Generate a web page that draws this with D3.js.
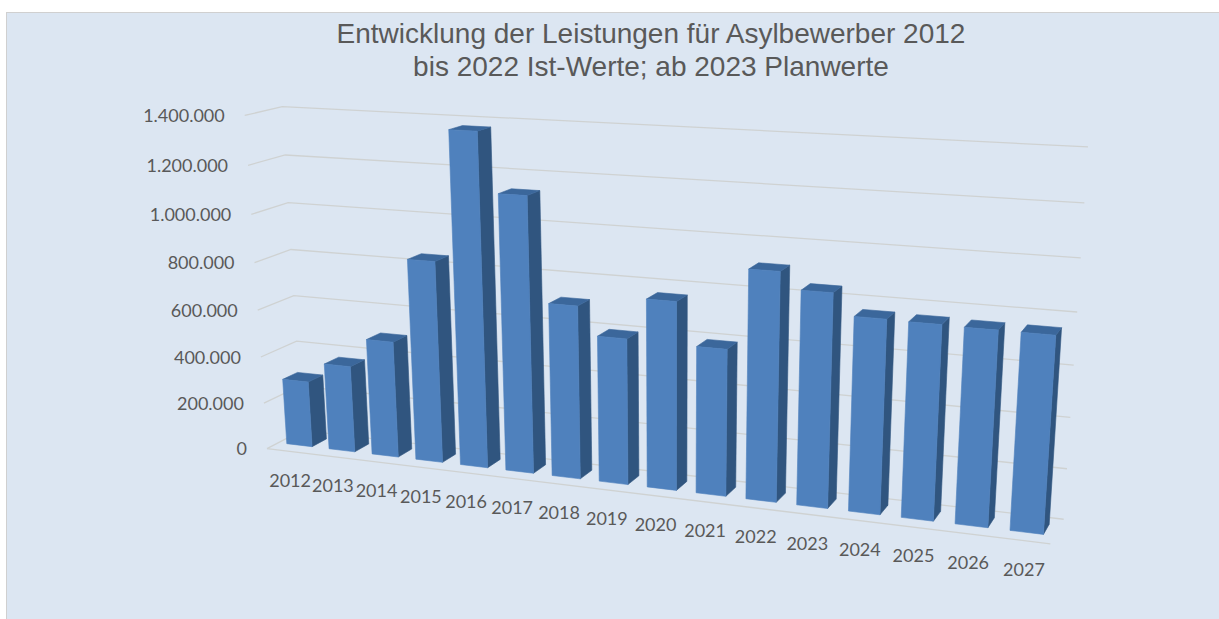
<!DOCTYPE html>
<html>
<head>
<meta charset="utf-8">
<script src="https://cdn.jsdelivr.net/npm/d3@7"></script>
<style>
  html, body { margin: 0; padding: 0; background: #ffffff; }
  svg { display: block; }
</style>
</head>
<body>
<svg id="chart" width="1219" height="619"></svg>
<script>
// ---- data ----
const years = ["2012", "2013", "2014", "2015", "2016", "2017", "2018", "2019",
               "2020", "2021", "2022", "2023", "2024", "2025", "2026", "2027"];
const values = [284000, 370000, 493000, 843000, 1372000, 1133000, 711000, 597000,
                762000, 592000, 910000, 845000, 762000, 759000, 756000, 755000];
const yTicks = [0, 200000, 400000, 600000, 800000, 1000000, 1200000, 1400000];
const titleLines = ["Entwicklung der Leistungen für Asylbewerber 2012",
                    "bis 2022 Ist-Werte; ab 2023 Planwerte"];

// ---- layout ----
const W = 1219, H = 619;
const BG = "#dce6f2";
const TEXT = "#595959";
const GRID = "#cfd2d2";
const FACE_FRONT = "#4f81bd", FACE_SIDE = "#30557f", FACE_TOP = "#3b679b";

// Plot box in world units: X along the years, Y = value share, Z depth (0 = back wall, 1 = front)
const BAR_BACK_Z = 0.26, BAR_FRONT_Z = 0.68;

// Screen anchors of the plot box corners: [world X,Y,Z] -> [px, py]
const boxAnchors = [
  [[0, 1, 0], [282, 107]],
  [[1, 1, 0], [1088, 147]],
  [[0, 0, 0], [302, 431]],
  [[1, 0, 0], [1064, 518]],
  [[0, 1, 1], [245, 115]],
  [[0, 0, 1], [267, 448]],
  [[1, 0, 1], [1050, 545]]
];

// Perspective camera (3x4 projective matrix) fitted to the box anchors
function fitCamera(pairs) {
  const S = 400, CX = 650, CY = 320, n = 11;
  const rows = [], rhs = [];
  pairs.forEach(([[X, Y, Z], [u, v]]) => {
    const s = (u - CX) / S, t = (v - CY) / S;
    rows.push([X, Y, Z, 1, 0, 0, 0, 0, -s * X, -s * Y, -s * Z]); rhs.push(s);
    rows.push([0, 0, 0, 0, X, Y, Z, 1, -t * X, -t * Y, -t * Z]); rhs.push(t);
  });
  const M = Array.from({length: n}, () => new Array(n + 1).fill(0));
  rows.forEach((r, k) => {
    for (let i = 0; i < n; i++) {
      for (let j = 0; j < n; j++) M[i][j] += r[i] * r[j];
      M[i][n] += r[i] * rhs[k];
    }
  });
  for (let c = 0; c < n; c++) {
    let piv = c;
    for (let r = c + 1; r < n; r++) if (Math.abs(M[r][c]) > Math.abs(M[piv][c])) piv = r;
    [M[c], M[piv]] = [M[piv], M[c]];
    for (let r = 0; r < n; r++) {
      if (r === c) continue;
      const f = M[r][c] / M[c][c];
      for (let j = c; j <= n; j++) M[r][j] -= f * M[c][j];
    }
  }
  const p = M.map((row, i) => row[n] / row[i]);
  return (X, Y, Z) => {
    const w = p[8] * X + p[9] * Y + p[10] * Z + 1;
    return [(p[0] * X + p[1] * Y + p[2] * Z + p[3]) / w * S + CX,
            (p[4] * X + p[5] * Y + p[6] * Z + p[7]) / w * S + CY];
  };
}
const project = fitCamera(boxAnchors);

// ---- scales ----
const x = d3.scaleBand().domain(years).range([0, 1]).paddingInner(0.4).paddingOuter(0.2);
const y = d3.scaleLinear().domain([0, 1400000]).range([0, 1]);
const de = d3.formatLocale({decimal: ",", thousands: ".", grouping: [3], currency: ["", " €"]});
const fmt = de.format(",d");

const svg = d3.select("#chart");

// background panel
svg.append("rect").attr("x", 0).attr("y", 0).attr("width", W).attr("height", H).attr("fill", "#ffffff");
svg.append("rect").attr("x", 6.5).attr("y", 12.5).attr("width", W - 6).attr("height", H - 12)
  .attr("fill", BG).attr("stroke", "#d0d0d0").attr("stroke-width", 1);

// title
svg.append("text")
  .attr("x", 651).attr("y", 43)
  .attr("text-anchor", "middle")
  .attr("font-family", "'Liberation Sans', Arial, sans-serif")
  .attr("font-size", 28).attr("fill", TEXT)
  .selectAll("tspan").data(titleLines).join("tspan")
  .attr("x", 651).attr("dy", (d, i) => i === 0 ? 0 : 33)
  .text(d => d);

const line = d3.line();
const pt = (X, Y, Z) => project(X, Y, Z);

// gridlines on back wall and side wall
const grid = svg.append("g").attr("fill", "none").attr("stroke", GRID).attr("stroke-width", 1.3);
yTicks.forEach(t => {
  const v = y(t);
  grid.append("path").attr("d", line([pt(0, v, 1), pt(0, v, 0), pt(1, v, 0)]));
});
// floor front edge
grid.append("path").attr("d", line([pt(0, 0, 1), pt(1, 0, 1)]));

// y-axis labels along the front edge of the side wall
svg.append("g").selectAll("text").data(yTicks).join("text")
  .attr("x", d => pt(0, y(d), 1)[0] - 20)
  .attr("y", d => pt(0, y(d), 1)[1] + 2)
  .attr("text-anchor", "end").attr("dominant-baseline", "middle")
  .attr("font-family", "Lato, 'Open Sans', sans-serif").attr("font-size", 18)
  .attr("fill", TEXT)
  .text(d => fmt(d));

// bars: front, right side and top faces, drawn left to right
const polygon = pts => "M" + pts.map(p => p.join(",")).join("L") + "Z";
const bars = svg.append("g");
years.forEach((yr, i) => {
  const x0 = x(yr), x1 = x(yr) + x.bandwidth();
  const h = y(values[i]);
  const z0 = BAR_BACK_Z, z1 = BAR_FRONT_Z;
  const g = bars.append("g").attr("stroke-width", 0.6).attr("stroke-linejoin", "round");
  g.append("path").attr("d", polygon([pt(x1, 0, z1), pt(x1, 0, z0), pt(x1, h, z0), pt(x1, h, z1)]))
    .attr("fill", FACE_SIDE).attr("stroke", FACE_SIDE);
  g.append("path").attr("d", polygon([pt(x0, h, z1), pt(x1, h, z1), pt(x1, h, z0), pt(x0, h, z0)]))
    .attr("fill", FACE_TOP).attr("stroke", FACE_TOP);
  g.append("path").attr("d", polygon([pt(x0, 0, z1), pt(x1, 0, z1), pt(x1, h, z1), pt(x0, h, z1)]))
    .attr("fill", FACE_FRONT).attr("stroke", FACE_FRONT);
});

// category labels below the floor front edge
svg.append("g").selectAll("text").data(years).join("text")
  .attr("x", d => pt(x(d) + x.bandwidth() / 2, 0, 1)[0] + 2)
  .attr("y", d => pt(x(d) + x.bandwidth() / 2, 0, 1)[1] + 31)
  .attr("text-anchor", "middle").attr("dominant-baseline", "middle")
  .attr("font-family", "Lato, 'Open Sans', sans-serif").attr("font-size", 18)
  .attr("fill", TEXT)
  .text(d => d);
</script>
</body>
</html>
